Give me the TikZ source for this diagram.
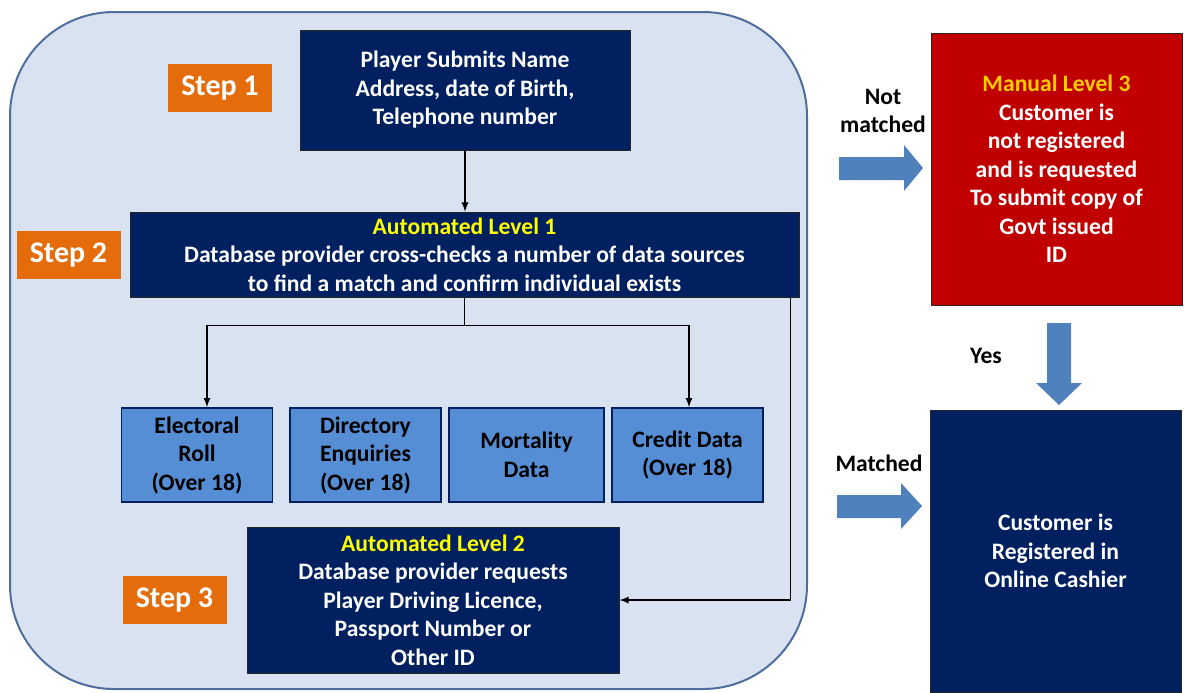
\documentclass[tikz,border=0pt]{standalone}
\usepackage{fontspec}
\setmainfont{Carlito}
\usetikzlibrary{positioning}
\definecolor{navy}{HTML}{002060}
\definecolor{panelbg}{HTML}{D9E2F0}
\definecolor{panelline}{HTML}{4F6E9E}
\definecolor{stepor}{HTML}{E46C0A}
\definecolor{datablue}{HTML}{558ED5}
\definecolor{alertred}{HTML}{C00000}
\definecolor{arrowblue}{HTML}{4F81BD}
\definecolor{lvlyellow}{HTML}{FFFF00}
\definecolor{lvlgold}{HTML}{FFCC00}
\tikzset{
  darkbox/.style={fill=navy,draw=black!85,text=white,align=center,inner sep=0pt},
  databox/.style={fill=datablue,draw=navy,line width=0.8pt,text=black,align=center,inner sep=0pt,minimum width=75.5pt,minimum height=47pt},
  steplabel/.style={fill=stepor,text=white,inner sep=0pt,minimum width=52pt,minimum height=24pt,font=\fontsize{15}{17}\selectfont\bfseries},
  link/.style={-latex,line width=0.6pt},
  flowlabel/.style={align=center,inner sep=0pt}
}
\begin{document}
\begin{tikzpicture}[x=0.5pt,y=-0.5pt,font=\fontsize{11.8}{14.25}\selectfont\bfseries]
\useasboundingbox (0,0) rectangle (1184,692);
%panel
\draw[fill=panelbg,draw=panelline,line width=1pt,rounded corners=52pt] (10,12) rectangle (807,689);
%steps
\node[steplabel] (step1) at (220,88) {Step 1};
\node[steplabel] (step2) at (68.5,255) {Step 2};
\node[steplabel] (step3) at (174.5,600) {Step 3};
%boxes
\node[darkbox,minimum width=165pt,minimum height=60pt] (player) at (465,90)
  {Player Submits Name\\Address, date of Birth,\\Telephone number};
\node[darkbox,minimum width=334.5pt,minimum height=42.5pt] (lvl1) at (464.5,254.5)
  {\textcolor{lvlyellow}{Automated Level 1}\\Database provider cross-checks a number of data sources\\to find a match and confirm individual exists};
\node[databox] (elect) at (197,455) {Electoral\\Roll\\(Over 18)};
\node[databox] (direct) at (365.5,455) {Directory\\Enquiries\\(Over 18)};
\node[databox,minimum width=77.5pt] (mort) at (526.5,455) {Mortality\\Data};
\node[databox] (credit) at (687.5,455) {Credit Data\\(Over 18)};
\node[darkbox,minimum width=186pt,minimum height=73pt] (lvl2) at (433,600)
  {\textcolor{lvlyellow}{Automated Level 2}\\Database provider requests\\Player Driving Licence,\\Passport Number or\\Other ID};
\node[darkbox,fill=alertred,minimum width=125.5pt,minimum height=136pt] (manual) at (1056.5,169)
  {\textcolor{lvlgold}{Manual Level 3}\\Customer is\\not registered\\and is requested\\To submit copy of\\Govt issued\\ID};
\node[darkbox,minimum width=125.5pt,minimum height=141pt] (reg) at (1055.5,551)
  {Customer is\\Registered in\\Online Cashier};
%connectors
\draw[link] (player.south) -- (player.south |- lvl1.north);
\draw[line width=0.6pt] (lvl1.south) -- ++(0,-14pt) coordinate (fork);
\draw[link] (fork) -| ([xshift=5pt]elect.north);
\draw[link] (fork) -| ([xshift=0.75pt]credit.north);
\draw[link] ([xshift=-4.5pt]lvl1.south east) |- (lvl2.east);
%block arrows and labels
\fill[arrowblue] (839,157) -- (904,157) -- (904,145) -- (923,168) -- (904,191) -- (904,180) -- (839,180) -- cycle;
\fill[arrowblue] (837,495) -- (901,495) -- (901,483) -- (922,506) -- (901,529) -- (901,518) -- (837,518) -- cycle;
\fill[arrowblue] (1047,323) -- (1071,323) -- (1071,383) -- (1082,383) -- (1059,405) -- (1036,383) -- (1047,383) -- cycle;
\node[flowlabel] (notm) at (883,111) {Not\\matched};
\node[flowlabel] (matched) at (879,463) {Matched};
\node[flowlabel] (yes) at (986,356) {Yes};
\end{tikzpicture}
\end{document}
